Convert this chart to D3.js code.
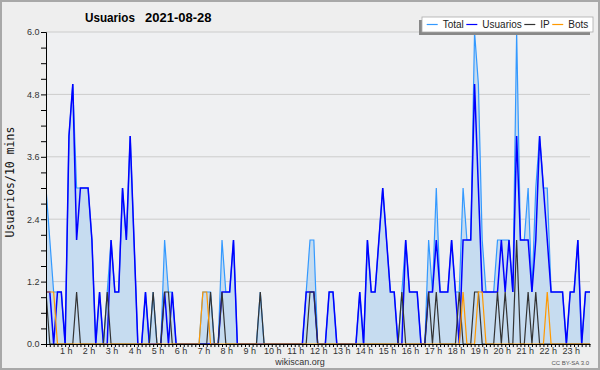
<!DOCTYPE html>
<html>
<head>
<meta charset="utf-8">
<script src="https://cdn.jsdelivr.net/npm/d3@7"></script>
<style>
  body { margin: 0; background: #fff; }
  svg { display: block; font-family: "Liberation Sans", Arial, sans-serif; }
</style>
</head>
<body>
<svg id="chart" width="600" height="370"></svg>
<script>
// Usuarios por cada 10 minutos, 2021-08-28 (144 franjas)
const usuarios = [
  1,1,0,1,1,0,4,5,2,3,3,3,
  2,0,1,0,0,2,1,1,3,2,4,2,
  0,0,1,0,0,0,0,1,0,1,0,0,
  0,0,0,0,0,0,0,0,0,0,1,1,
  1,2,0,0,0,0,0,0,0,0,0,0,
  0,0,0,0,0,0,0,0,1,1,1,0,
  0,0,1,1,0,0,0,0,0,0,1,0,
  2,1,1,2,3,2,1,1,0,0,2,1,
  1,1,0,0,1,1,2,1,1,1,2,1,
  0,2,2,2,5,3,1,1,1,1,1,2,
  1,2,1,4,2,2,2,1,2,4,3,2,
  1,1,1,1,0,1,1,2,0,1,1,1
];
const ip = [
  1,0,0,0,0,0,0,0,1,0,0,0,
  0,0,0,0,1,0,0,0,0,0,0,0,
  0,0,0,0,1,0,0,1,1,0,0,0,
  0,0,0,0,0,0,0,1,0,0,1,0,
  0,0,0,0,0,0,0,0,1,0,0,0,
  0,0,0,0,0,0,0,0,0,1,1,0,
  0,0,0,0,0,0,0,0,0,0,0,0,
  0,0,0,0,0,0,0,0,0,1,0,0,
  0,0,0,0,1,0,1,0,0,0,0,0,
  1,0,0,0,1,1,0,0,0,0,1,0,
  1,0,0,2,0,0,1,0,1,0,0,0,
  0,0,0,0,0,0,0,0,0,0,0,0
];
const bots = [
  1,1,1,0,0,0,0,0,0,0,0,0,
  0,0,0,0,0,0,0,0,0,0,0,0,
  0,0,0,0,0,0,0,0,0,0,0,0,
  0,0,0,0,0,1,1,0,0,0,0,0,
  0,0,0,0,0,0,0,0,0,0,0,0,
  0,0,0,0,0,0,0,0,0,0,0,0,
  0,0,0,0,0,0,0,0,0,0,0,0,
  0,0,0,0,0,0,0,0,0,0,0,0,
  0,0,0,0,0,0,0,0,0,0,0,0,
  0,1,0,0,0,1,1,0,0,0,0,0,
  0,0,0,0,0,0,0,0,0,0,0,1,
  0,0,0,0,0,0,0,0,0,0,0,0
];
const total = [
  3,2,1,1,1,0,4,5,3,3,3,3,
  2,0,1,0,1,2,1,1,3,2,4,2,
  0,0,1,0,1,0,0,2,1,1,0,0,
  0,0,0,0,0,1,1,1,0,0,2,1,
  1,2,0,0,0,0,0,0,1,0,0,0,
  0,0,0,0,0,0,0,0,1,2,2,0,
  0,0,1,1,0,0,0,0,0,0,1,0,
  2,1,1,2,3,2,1,1,0,1,2,1,
  1,1,0,0,2,1,3,1,1,1,2,1,
  1,3,2,2,6,5,2,1,1,1,2,2,
  2,2,1,6,2,2,3,1,3,4,3,3,
  1,1,1,1,0,1,1,2,0,1,1,1
];
const hourLabels = ['1 h','2 h','3 h','4 h','5 h','6 h','7 h','8 h','9 h','10 h','11 h','12 h',
  '13 h','14 h','15 h','16 h','17 h','18 h','19 h','20 h','21 h','22 h','23 h'];
const yLabels = [0, 1.2, 2.4, 3.6, 4.8, 6.0];

const series = [
  { name: 'Total', values: total, color: '#3399ff', width: 1.2 },
  { name: 'Usuarios', values: usuarios, color: '#0000ff', width: 1.5 },
  { name: 'IP', values: ip, color: '#333333', width: 1.2 },
  { name: 'Bots', values: bots, color: '#ff9900', width: 1.2 }
];

const svg = d3.select('#chart');
const ml = 46, plotRight = 590, plotTop = 32, plotBottom = 344;

// background + frame
svg.append('rect').attr('x', 0).attr('y', 0).attr('width', 600).attr('height', 370)
  .attr('fill', '#eeeeee');
svg.append('rect').attr('x', 1).attr('y', 1).attr('width', 598).attr('height', 368)
  .attr('fill', 'none').attr('stroke', '#a8a8a8').attr('stroke-width', 2);
svg.append('rect').attr('x', ml).attr('y', plotTop).attr('width', plotRight - ml).attr('height', plotBottom - plotTop)
  .attr('fill', '#eff0f2');

// scales: one slot = 10 min
const x = d3.scaleLinear().domain([0, 1440]).range([ml, ml + 551]);
const xAxisScale = x.copy().domain([0, x.invert(plotRight)]).range([ml, plotRight]);
const y = d3.scaleLinear().domain([0, 6]).range([plotBottom, plotTop]);
const slot = i => i * 10;

svg.append('clipPath').attr('id', 'plot-clip')
  .append('rect').attr('x', ml).attr('y', plotTop - 2).attr('width', plotRight - ml).attr('height', plotBottom - plotTop + 2);

// grid
svg.append('g').selectAll('line')
  .data(yLabels.filter(d => d > 0))
  .enter().append('line')
  .attr('x1', ml).attr('x2', plotRight)
  .attr('y1', d => y(d)).attr('y2', d => y(d))
  .attr('stroke', '#cccccc').attr('stroke-width', 1);

const g = svg.append('g').attr('clip-path', 'url(#plot-clip)');

// area under total
const area = d3.area()
  .x((d, i) => x(slot(i)))
  .y0(y(0))
  .y1(d => y(d));
g.append('path').datum(total)
  .attr('d', area)
  .attr('fill', '#c6dcf0');

const line = d3.line()
  .x((d, i) => x(slot(i)))
  .y(d => y(d));

series.forEach(s => {
  g.append('path').datum(s.values)
    .attr('d', line)
    .attr('fill', 'none')
    .attr('stroke', s.color)
    .attr('stroke-width', s.width);
});

// y axis
const yAxis = d3.axisLeft(y)
  .tickValues(d3.range(0, 21).map(k => k * 0.3))
  .tickSize(5)
  .tickPadding(1.5)
  .tickFormat(d => yLabels.some(v => Math.abs(v - d) < 1e-6) ? d.toFixed(1) : '');
const ya = svg.append('g').attr('transform', `translate(${ml},0)`).call(yAxis);
ya.select('.domain').attr('stroke', '#000');
ya.selectAll('line').attr('stroke', '#000');
ya.selectAll('text').attr('font-size', 9).attr('fill', '#333')
  .attr('font-family', '"Liberation Sans", Arial, sans-serif');

// x axis
const xAxis = d3.axisBottom(xAxisScale)
  .tickValues(d3.range(0, 143).map(slot))
  .tickSize(3)
  .tickSizeOuter(0)
  .tickFormat('');
const xa = svg.append('g').attr('transform', `translate(0,${plotBottom})`).call(xAxis);
xa.select('.domain').attr('stroke', '#000');
xa.selectAll('line').attr('stroke', '#000');

svg.append('g').selectAll('text')
  .data(hourLabels)
  .enter().append('text')
  .attr('x', (d, i) => x((i + 1) * 60) - 2.8)
  .attr('y', 353.5)
  .attr('text-anchor', 'middle')
  .attr('font-size', 9)
  .attr('fill', '#333')
  .text(d => d);

// titles
svg.append('text').attr('x', 85).attr('y', 21.7)
  .attr('font-size', 13).attr('font-weight', 'bold')
  .attr('textLength', 50).attr('lengthAdjust', 'spacingAndGlyphs')
  .text('Usuarios');
svg.append('text').attr('x', 145).attr('y', 21.7)
  .attr('font-size', 13).attr('font-weight', 'bold').text('2021-08-28');

svg.append('text')
  .attr('transform', 'translate(14,182) rotate(-90)')
  .attr('text-anchor', 'middle')
  .attr('font-family', '"DejaVu Sans Mono", monospace')
  .attr('font-size', 11.5)
  .attr('fill', '#111')
  .text('Usuarios/10 mins');

svg.append('text').attr('x', 300).attr('y', 364.5)
  .attr('text-anchor', 'middle').attr('font-size', 9).attr('fill', '#333')
  .text('wikiscan.org');
svg.append('text').attr('x', 589).attr('y', 365)
  .attr('text-anchor', 'end').attr('font-size', 6).attr('fill', '#555')
  .text('CC BY-SA 3.0');

// legend
const legend = svg.append('g');
legend.append('rect').attr('x', 419).attr('y', 20).attr('width', 171).attr('height', 15)
  .attr('fill', '#888');
legend.append('rect').attr('x', 422).attr('y', 17).attr('width', 171).attr('height', 15)
  .attr('fill', '#fff').attr('stroke', '#aaa').attr('stroke-width', 0.8);
let lx = 426.7;
series.forEach(s => {
  legend.append('line')
    .attr('x1', lx).attr('x2', lx + 11)
    .attr('y1', 24.5).attr('y2', 24.5)
    .attr('stroke', s.color).attr('stroke-width', 1.2);
  const t = legend.append('text')
    .attr('x', lx + 16).attr('y', 28.3)
    .attr('font-size', 10).attr('fill', '#222')
    .text(s.name);
  lx += 16 + t.node().getComputedTextLength() + 2.5;
});
</script>
</body>
</html>
